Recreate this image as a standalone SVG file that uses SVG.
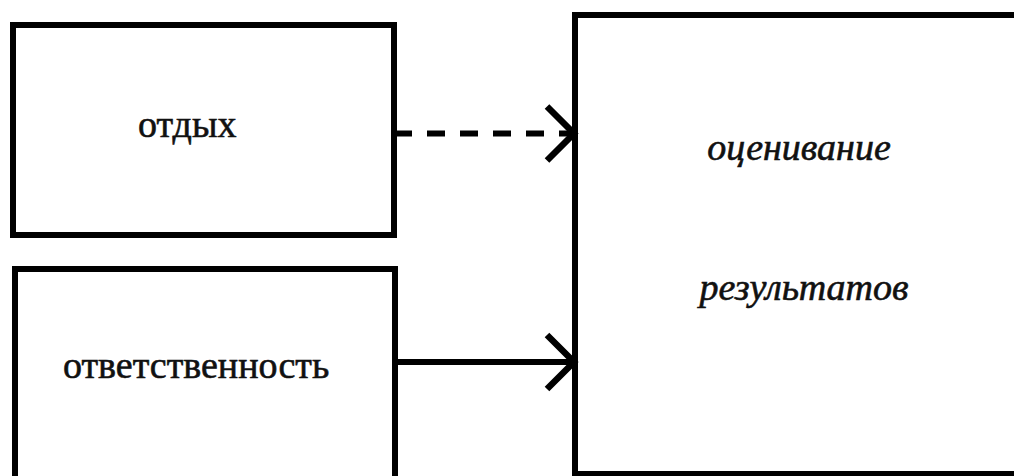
<svg xmlns="http://www.w3.org/2000/svg" width="1014" height="476" viewBox="0 0 1014 476">
<style>
.box{fill:#fff;stroke:#000;stroke-width:6}
.lbl{font-family:"Liberation Serif","Times New Roman",serif;font-size:38px;fill:#111;stroke:#111;stroke-width:0.6}
.it{font-style:italic}
.conn{fill:none;stroke:#000;stroke-width:6}
.dash{stroke-dasharray:18 15}
</style>
<defs>
<marker id="chev" markerUnits="userSpaceOnUse" viewBox="-36 -36 44 72" markerWidth="44" markerHeight="72" refX="0" refY="0" orient="auto" overflow="visible">
<path d="M-27,-27 L0,0 L-27,27" fill="none" stroke="#000" stroke-width="6.5" stroke-dasharray="none"/>
</marker>
</defs>
<rect width="1014" height="476" fill="#fff"/>
<g id="node-otdykh">
<rect class="box" x="13" y="25" width="381" height="210"/>
<text class="lbl" x="138" y="137">отдых</text>
</g>
<g id="node-otvetstvennost">
<rect class="box" x="15" y="269" width="380" height="212"/>
<text class="lbl" x="63" y="378">ответственность</text>
</g>
<g id="node-otsenivanie">
<rect class="box" x="575" y="15" width="460" height="459"/>
<text class="lbl it" x="799" y="160" text-anchor="middle">оценивание</text>
<text class="lbl it" x="804" y="300" text-anchor="middle">результатов</text>
</g>
<g id="connectors">
<path class="conn dash" d="M394,133.5 H574" marker-end="url(#chev)"/>
<path class="conn" d="M395,362 H574" marker-end="url(#chev)"/>
</g>
</svg>
